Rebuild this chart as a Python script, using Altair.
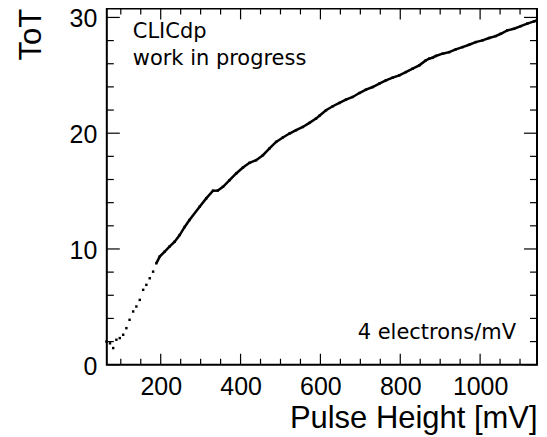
import altair as alt
import pandas as pd

pulse_mv = [64, 73, 81, 89, 97.5, 106, 114, 122, 131, 139, 147.5, 156, 164, 172.5, 181, 189,
            197.5, 210, 222, 235, 247.5, 260, 272, 297.5, 314, 331, 343, 356, 372.5, 389,
            406, 422.5, 439, 456, 472.5, 489, 506, 522.5, 539, 556, 572.5, 589, 597.5, 614,
            631, 647.5, 664, 681, 697.5, 714, 731, 747.5, 764, 781, 797.5, 814, 831, 847.5,
            864, 872.5, 881, 889, 906, 922.5, 939, 956, 972.5, 989, 1006, 1022.5, 1039,
            1052, 1068, 1085, 1102, 1118, 1135, 1142]
tot = [2.0, 1.85, 1.44, 2.16, 2.3, 2.59, 3.16, 3.88, 4.6, 5.03, 5.6, 6.47, 6.9, 7.47, 8.04, 8.76,
       9.34, 9.77, 10.2, 10.63, 11.2, 11.9, 12.5, 13.65, 14.37, 15.03, 15.05, 15.37, 15.95, 16.52,
       17.03, 17.44, 17.67, 18.1, 18.68, 19.25, 19.63, 19.97, 20.26, 20.54, 20.89, 21.26, 21.5, 21.98,
       22.33, 22.61, 22.9, 23.13, 23.47, 23.76, 23.99, 24.28, 24.57, 24.8, 25.0, 25.28, 25.57, 25.86,
       26.29, 26.44, 26.52, 26.67, 26.87, 27.0, 27.24, 27.44, 27.64, 27.87, 28.02, 28.22, 28.39,
       28.59, 28.88, 29.02, 29.25, 29.46, 29.66, 29.74]

x_major = [200, 400, 600, 800, 1000]
x_minor = [100, 150, 250, 300, 350, 450, 500, 550, 650, 700, 750, 850, 900, 950, 1050, 1100]
y_major = [0, 10, 20, 30]
y_minor = [2, 4, 6, 8, 12, 14, 16, 18, 22, 24, 26, 28]

W, H = 431, 357
xs = alt.Scale(domain=[65, 1142.5], nice=False, zero=False)
ys = alt.Scale(domain=[0, 30.78], nice=False, zero=False)

df = pd.DataFrame({"mv": pulse_mv, "tot": tot})

x_axis = alt.Axis(values=x_major, format="d", title="Pulse Height [mV]", ticks=False, domain=False,
                  grid=False, labelFont="Liberation Sans", labelFontSize=25, labelColor="black",
                  labelPadding=10,
                  titleFont="Liberation Sans", titleFontSize=31, titleFontWeight="normal",
                  titleColor="black", titleAnchor="end", titleAlign="right", titleX=W, titleY=63,
                  titleBaseline="alphabetic")
y_axis = alt.Axis(values=y_major, format="d", title="ToT", ticks=False, domain=False, grid=False,
                  labelFont="Liberation Sans", labelFontSize=25, labelColor="black", labelPadding=10,
                  labelOffset=1.5,
                  titleFont="Liberation Sans", titleFontSize=31, titleFontWeight="normal",
                  titleColor="black", titleAngle=270, titleAlign="right", titleX=-66, titleY=0,
                  titleBaseline="alphabetic")

points = alt.Chart(df).mark_square(size=6, color="black", opacity=1).encode(
    x=alt.X("mv:Q", scale=xs, axis=x_axis),
    y=alt.Y("tot:Q", scale=ys, axis=y_axis),
)
line = alt.Chart(df).transform_filter("datum.mv >= 185").mark_line(
    color="black", strokeWidth=2.5).encode(
    x=alt.X("mv:Q", scale=xs, axis=x_axis),
    y=alt.Y("tot:Q", scale=ys, axis=y_axis),
)

def xticks(vals, length):
    d = pd.DataFrame({"mv": vals})
    b = alt.Chart(d).mark_rule(color="black", strokeWidth=1.2).encode(
        x=alt.X("mv:Q", scale=xs, axis=x_axis), y=alt.value(H), y2=alt.value(H - length))
    t = alt.Chart(d).mark_rule(color="black", strokeWidth=1.2).encode(
        x=alt.X("mv:Q", scale=xs, axis=x_axis), y=alt.value(0), y2=alt.value(length))
    return [b, t]

def yticks(vals, length):
    d = pd.DataFrame({"tot": vals})
    l = alt.Chart(d).mark_rule(color="black", strokeWidth=1.2).encode(
        y=alt.Y("tot:Q", scale=ys, axis=y_axis), x=alt.value(0), x2=alt.value(length))
    r = alt.Chart(d).mark_rule(color="black", strokeWidth=1.2).encode(
        y=alt.Y("tot:Q", scale=ys, axis=y_axis), x=alt.value(W), x2=alt.value(W - length))
    return [l, r]

tick_layers = xticks(x_major, 11) + xticks(x_minor, 6) + yticks(y_major, 13) + yticks(y_minor, 7)

texts = pd.DataFrame({"t": ["CLICdp", "work in progress", "4 electrons/mV"],
                      "px": [26, 26, 410], "py": [29.5, 57, 331]})
ann_left = alt.Chart(texts.iloc[:2]).mark_text(
    font="DejaVu Sans", fontSize=21, color="black", align="left", baseline="alphabetic").encode(
    text="t:N", x=alt.X("px:Q", scale=None), y=alt.Y("py:Q", scale=None))
ann_right = alt.Chart(texts.iloc[2:]).mark_text(
    font="DejaVu Sans", fontSize=21, color="black", align="right", baseline="alphabetic").encode(
    text="t:N", x=alt.X("px:Q", scale=None), y=alt.Y("py:Q", scale=None))

chart = alt.layer(points, line, *tick_layers, ann_left, ann_right).properties(
    width=W, height=H,
    background="white",
    autosize=alt.AutoSizeParams(type="none"),
    padding={"left": 99, "top": 0, "right": 2, "bottom": 72},
).configure_view(stroke="black", strokeWidth=2)

chart.save("out.html", embed_options={"renderer": "svg", "actions": False})
